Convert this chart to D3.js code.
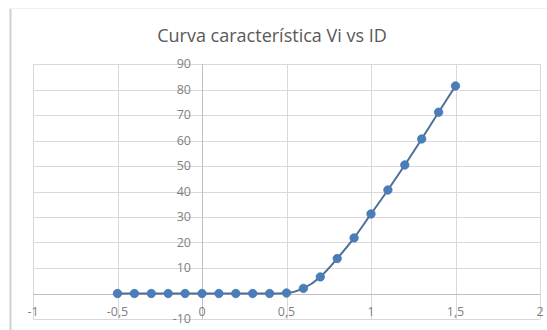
<!DOCTYPE html>
<html>
<head>
<meta charset="utf-8">
<script src="https://cdn.jsdelivr.net/npm/d3@7"></script>
<style>
  body { margin: 0; background: #fff; }
  svg { display: block; font-family: "Open Sans", "Liberation Sans", sans-serif; }
</style>
</head>
<body>
<div id="chart"></div>
<script>
// data
let title = "Curva característica Vi vs ID";
let vi = [-0.5, -0.4, -0.3, -0.2, -0.1, 0, 0.1, 0.2, 0.3, 0.4, 0.5,
          0.6, 0.7, 0.8, 0.9, 1.0, 1.1, 1.2, 1.3, 1.4, 1.5];
let id = [0, 0, 0, 0, 0, 0, 0, 0, 0, 0, 0.2,
          2.0, 6.5, 13.7, 21.8, 31.2, 40.6, 50.4, 60.6, 71.1, 81.4];
let xTicks = [-1, -0.5, 0, 0.5, 1, 1.5, 2];
let yTicks = [-10, 0, 10, 20, 30, 40, 50, 60, 70, 80, 90];

let width = 547, height = 330;
let margin = {top: 64, right: 7, bottom: 11, left: 33};

let svg = d3.select("#chart")
  .append("svg")
  .attr("width", width)
  .attr("height", height);

// chart frame (faint, like the screenshot edge)
svg.append("line")
  .attr("x1", 10.5).attr("x2", 10.5).attr("y1", 8).attr("y2", height)
  .attr("stroke", "#d0d0d0").attr("stroke-width", 2);
svg.append("line")
  .attr("x1", 10).attr("x2", width).attr("y1", 8.5).attr("y2", 8.5)
  .attr("stroke", "#f0f0f0");

let x = d3.scaleLinear()
  .domain([-1, 2])
  .range([margin.left, width - margin.right]);

let y = d3.scaleLinear()
  .domain([-10, 90])
  .range([height - margin.bottom, margin.top]);

// gridlines
svg.append("g")
  .selectAll("line")
  .data(yTicks)
  .enter()
  .append("line")
    .attr("x1", x(-1)).attr("x2", x(2))
    .attr("y1", d => Math.round(y(d)) + 0.5)
    .attr("y2", d => Math.round(y(d)) + 0.5)
    .attr("stroke", "#d9d9d9");

svg.append("g")
  .selectAll("line")
  .data(xTicks)
  .enter()
  .append("line")
    .attr("x1", d => Math.round(x(d)) + 0.5)
    .attr("x2", d => Math.round(x(d)) + 0.5)
    .attr("y1", y(90)).attr("y2", y(-10))
    .attr("stroke", "#d9d9d9");

// axes through the origin
svg.append("line")
  .attr("x1", x(-1)).attr("x2", x(2))
  .attr("y1", Math.round(y(0)) + 0.5).attr("y2", Math.round(y(0)) + 0.5)
  .attr("stroke", "#bfbfbf");
svg.append("line")
  .attr("x1", Math.round(x(0)) + 0.5).attr("x2", Math.round(x(0)) + 0.5)
  .attr("y1", y(90)).attr("y2", y(-10))
  .attr("stroke", "#bfbfbf");

let fmt = d => String(d).replace(".", ",");

// y tick labels, left of the vertical axis
svg.append("g")
  .selectAll("text")
  .data(yTicks)
  .enter()
  .append("text")
    .attr("x", x(0) - 11)
    .attr("y", d => y(d))
    .attr("dy", "0.35em")
    .attr("text-anchor", "end")
    .attr("font-size", 12.5)
    .attr("fill", "#7f7f7f")
    .text(d => d === 0 ? "" : fmt(d));

// x tick labels
svg.append("g")
  .selectAll("text")
  .data(xTicks)
  .enter()
  .append("text")
    .attr("x", d => x(d))
    .attr("y", y(0) + 18)
    .attr("dy", "0.35em")
    .attr("text-anchor", "middle")
    .attr("font-size", 12.5)
    .attr("fill", "#7f7f7f")
    .text(fmt);

// title
svg.append("text")
  .attr("x", 272)
  .attr("y", 36)
  .attr("dy", "0.35em")
  .attr("text-anchor", "middle")
  .attr("font-size", 18)
  .attr("fill", "#595959")
  .text(title);

// series
let pts = vi.map((v, i) => [v, id[i]]);

svg.append("path")
  .datum(pts)
  .attr("fill", "none")
  .attr("stroke", "#4f6f96")
  .attr("stroke-width", 2)
  .attr("d", d3.line()
    .x(d => x(d[0]))
    .y(d => y(d[1]))
    .curve(d3.curveMonotoneX));

svg.append("g")
  .selectAll("circle")
  .data(pts)
  .enter()
  .append("circle")
    .attr("cx", d => x(d[0]))
    .attr("cy", d => y(d[1]))
    .attr("r", 4.2)
    .attr("fill", "#4a7ebb")
    .attr("stroke", "#4676b0")
    .attr("stroke-width", 0.8);
</script>
</body>
</html>
